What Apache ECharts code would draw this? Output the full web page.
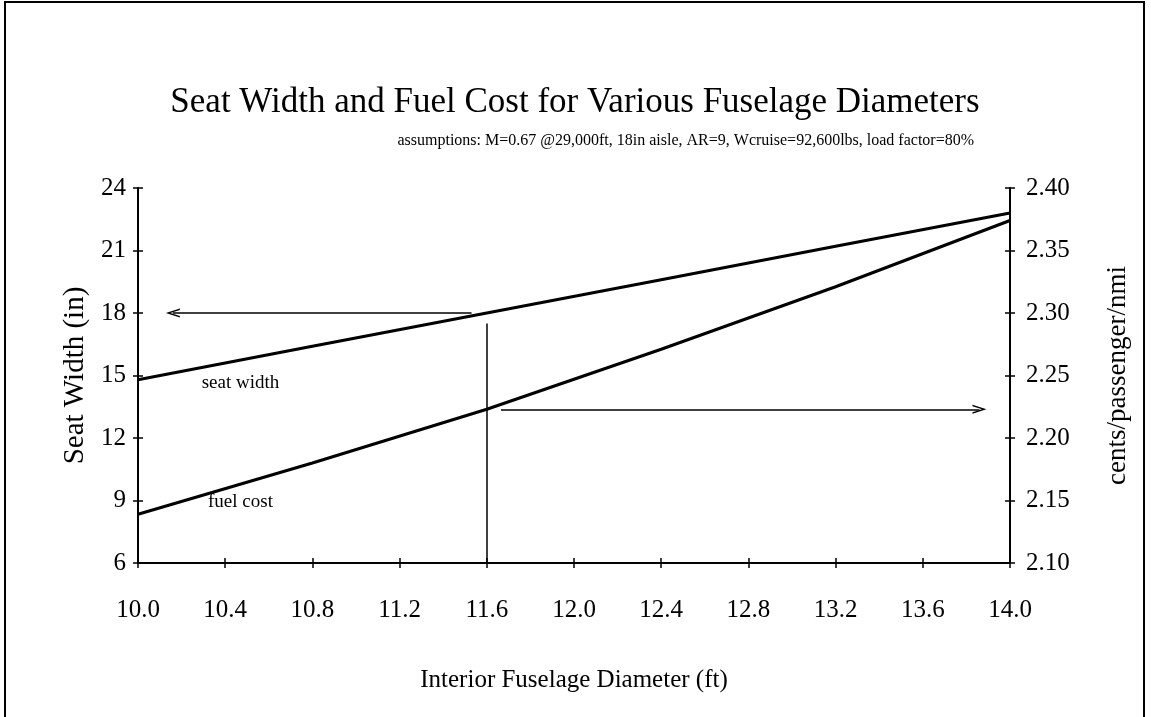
<!DOCTYPE html>
<html>
<head>
<meta charset="utf-8">
<title>Seat Width and Fuel Cost for Various Fuselage Diameters</title>
<script src="https://cdn.jsdelivr.net/npm/echarts@6/dist/echarts.min.js"></script>
<style>
  html, body { margin: 0; padding: 0; background: #fff; }
  #chart { width: 1151px; height: 717px; }
</style>
</head>
<body>
<div id="chart"></div>
<script>
// data
const diameter = [10.0, 10.8, 11.6, 12.4, 13.2, 14.0] // ft
const seatWidth = [14.8, 16.4, 18.0, 19.6, 21.2, 22.8] // in
const fuelCost = [2.139, 2.180, 2.223, 2.271, 2.321, 2.374] // cents/passenger/nmi
// the read-off guide at 11.6 ft
const guideDiameter = 11.6
const guideSeat = 18.0
const guideFuel = 2.223

const serif = "'Liberation Serif', 'Times New Roman', serif"
const black = '#000'
// thin open arrow head, pointing up (markLine turns it)
const arrowHead = 'path://M0,10 L5,0 L10,10 L8.4,10 L5,3.2 L1.6,10 Z'

const myChart = echarts.init(document.getElementById('chart'))

function tickOnly (extra) {
  // second axis, only to draw the inner half of the crossing ticks
  return Object.assign({
    type: 'value',
    axisLine: { show: false },
    axisLabel: { show: false },
    splitLine: { show: false },
    axisTick: { inside: true, length: 5, lineStyle: { color: black, width: 1.5 } }
  }, extra)
}

const option = {
  animation: false,
  backgroundColor: '#fff',
  textStyle: { fontFamily: serif, color: black },
  title: [
    {
      text: 'Seat Width and Fuel Cost for Various Fuselage Diameters',
      left: 570,
      textAlign: 'center',
      top: 80,
      textStyle: { fontFamily: serif, fontSize: 35, fontWeight: 'normal', color: black }
    },
    {
      text: 'assumptions: M=0.67 @29,000ft, 18in aisle, AR=9, Wcruise=92,600lbs, load factor=80%',
      right: 172,
      top: 128,
      textStyle: { fontFamily: serif, fontSize: 16, fontWeight: 'normal', color: black }
    }
  ],
  grid: { left: 138, right: 141, top: 188, bottom: 154 },
  xAxis: [
    {
      type: 'value',
      min: 10,
      max: 14,
      interval: 0.4,
      name: 'Interior Fuselage Diameter (ft)',
      nameLocation: 'middle',
      nameGap: 105,
      nameTextStyle: { fontFamily: serif, fontSize: 25, color: black },
      axisLine: { onZero: false, lineStyle: { color: black, width: 2 } },
      axisTick: { length: 5, lineStyle: { color: black, width: 1.5 } },
      axisLabel: { fontFamily: serif, fontSize: 25, color: black, margin: 35, formatter: v => v.toFixed(1) },
      splitLine: { show: false }
    },
    tickOnly({ position: 'bottom', min: 10, max: 14, interval: 0.4 })
  ],
  yAxis: [
    {
      type: 'value',
      position: 'left',
      min: 6,
      max: 24,
      interval: 3,
      name: 'Seat Width (in)',
      nameLocation: 'middle',
      nameGap: 42,
      nameTextStyle: { fontFamily: serif, fontSize: 29, color: black },
      axisLine: { show: true, onZero: false, lineStyle: { color: black, width: 2 } },
      axisTick: { show: true, length: 5, lineStyle: { color: black, width: 1.5 } },
      axisLabel: { fontFamily: serif, fontSize: 25, color: black, margin: 12 },
      splitLine: { show: false }
    },
    {
      type: 'value',
      position: 'right',
      min: 2.10,
      max: 2.40,
      interval: 0.05,
      name: 'cents/passenger/nmi',
      nameLocation: 'middle',
      nameGap: 94,
      nameTextStyle: { fontFamily: serif, fontSize: 27, color: black },
      axisLine: { show: true, onZero: false, lineStyle: { color: black, width: 2 } },
      axisTick: { show: true, length: 5, lineStyle: { color: black, width: 1.5 } },
      axisLabel: { fontFamily: serif, fontSize: 25, color: black, margin: 16, formatter: v => v.toFixed(2) },
      splitLine: { show: false }
    },
    tickOnly({ position: 'left', min: 6, max: 24, interval: 3 }),
    tickOnly({ position: 'right', min: 2.10, max: 2.40, interval: 0.05 })
  ],
  series: [
    {
      name: 'seat width',
      type: 'line',
      xAxisIndex: 0,
      yAxisIndex: 0,
      showSymbol: false,
      lineStyle: { color: black, width: 3 },
      data: diameter.map((d, i) => [d, seatWidth[i]]),
      markLine: {
        silent: true,
        symbol: ['none', arrowHead],
        symbolSize: [9, 14],
        label: { show: false },
        lineStyle: { color: black, width: 1.5, type: 'solid' },
        data: [
          [{ coord: [guideDiameter - 0.07, guideSeat] }, { coord: [10.16, guideSeat] }],
          [{ coord: [guideDiameter, guideSeat - 0.5], symbol: 'none' }, { coord: [guideDiameter, 6], symbol: 'none' }]
        ]
      },
      markPoint: {
        silent: true,
        symbolSize: 1,
        itemStyle: { color: 'transparent' },
        label: { show: true, position: 'inside', fontFamily: serif, fontSize: 19, color: black, formatter: 'seat width' },
        data: [{ coord: [10.47, 14.6] }]
      }
    },
    {
      name: 'fuel cost',
      type: 'line',
      xAxisIndex: 0,
      yAxisIndex: 1,
      showSymbol: false,
      lineStyle: { color: black, width: 3 },
      data: diameter.map((d, i) => [d, fuelCost[i]]),
      markLine: {
        silent: true,
        symbol: ['none', arrowHead],
        symbolSize: [9, 14],
        label: { show: false },
        lineStyle: { color: black, width: 1.5, type: 'solid' },
        data: [
          [{ coord: [guideDiameter + 0.065, guideFuel] }, { coord: [13.86, guideFuel] }]
        ]
      },
      markPoint: {
        silent: true,
        symbolSize: 1,
        itemStyle: { color: 'transparent' },
        label: { show: true, position: 'inside', fontFamily: serif, fontSize: 19, color: black, formatter: 'fuel cost' },
        data: [{ coord: [10.47, 2.148] }]
      }
    }
  ],
  graphic: [
    {
      // page frame
      type: 'rect',
      silent: true,
      shape: { x: 5, y: 2, width: 1139, height: 740 },
      style: { fill: 'none', stroke: black, lineWidth: 2 }
    }
  ]
}

myChart.setOption(option)
</script>
</body>
</html>
